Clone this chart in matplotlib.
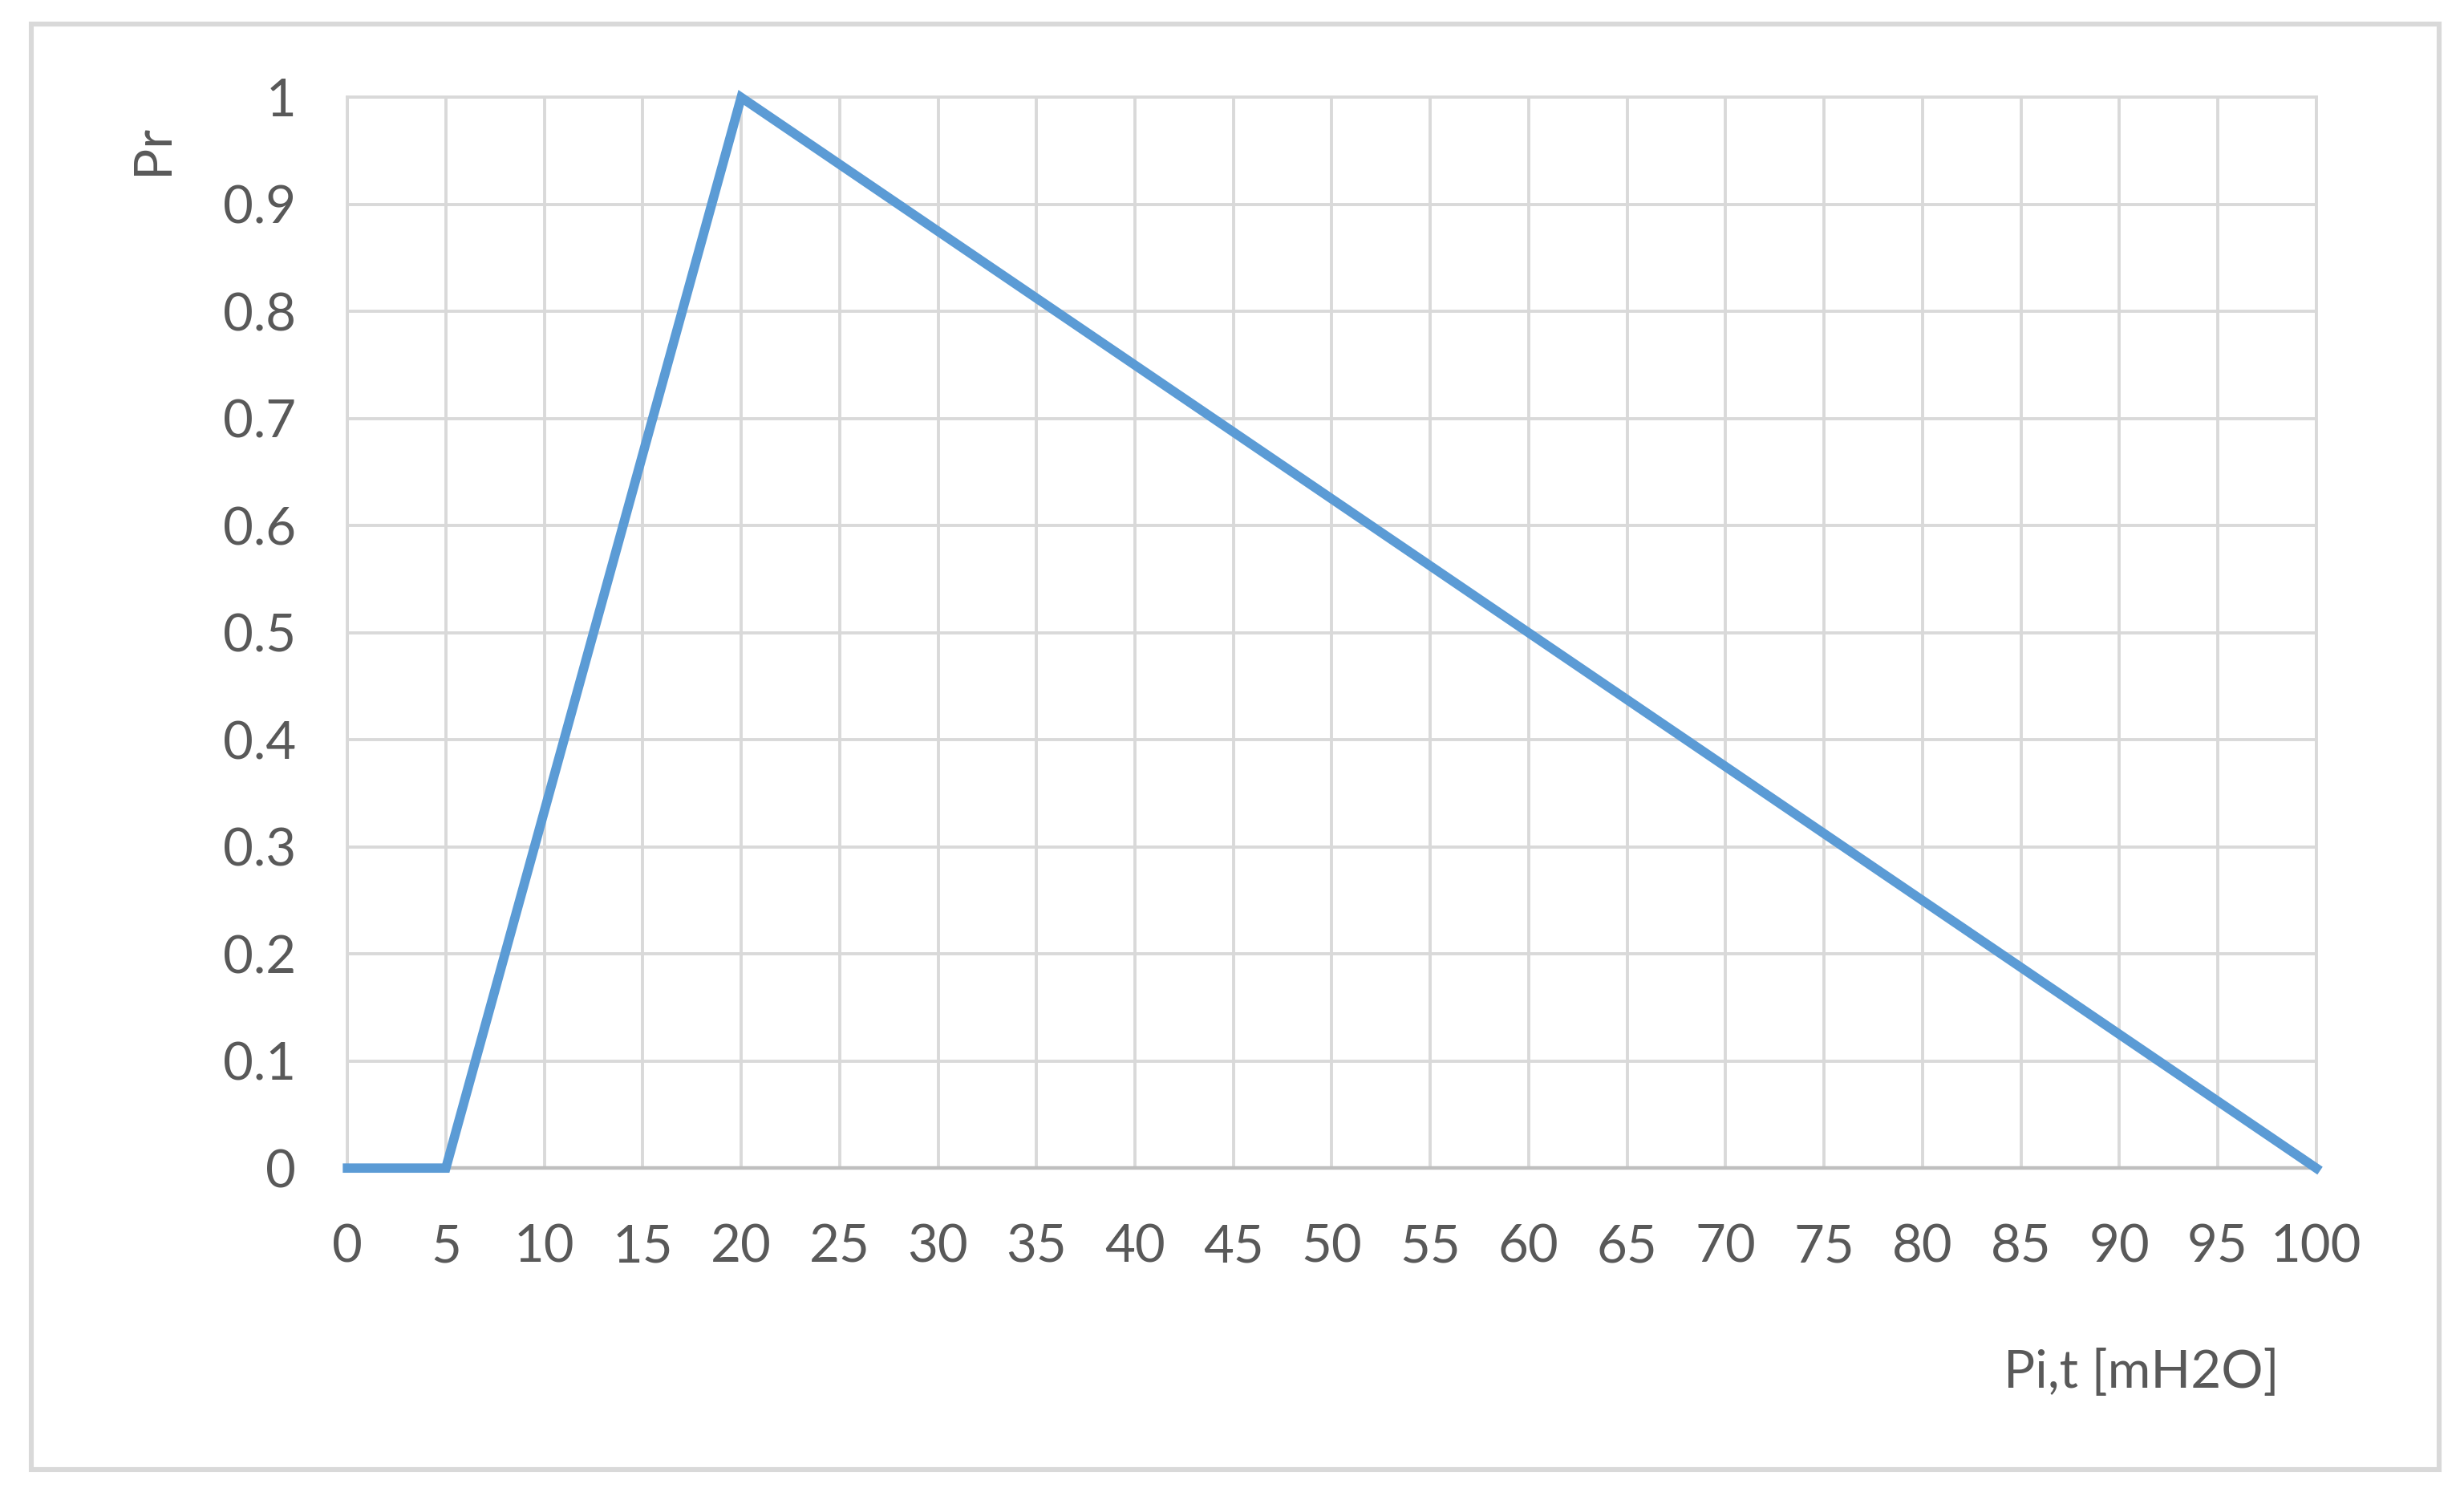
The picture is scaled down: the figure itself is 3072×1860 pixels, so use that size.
import numpy as np
from matplotlib import pyplot as plt
from matplotlib.patches import Rectangle

# data
pressure = [0, 5, 20, 100]
ratio = [0, 0, 1, 0]
x_ticks = list(range(0, 101, 5))
y_ticks = [0, 0.1, 0.2, 0.3, 0.4, 0.5, 0.6, 0.7, 0.8, 0.9, 1]
y_labels = ['0', '0.1', '0.2', '0.3', '0.4', '0.5', '0.6', '0.7', '0.8', '0.9', '1']

plt.rcParams['font.family'] = ['Lato', 'DejaVu Sans']
text_col = '#595959'
grid_col = '#d9d9d9'
fs = 23.5

fig = plt.figure(figsize=(15.36, 9.3), dpi=200)
ax = fig.add_axes([0.141, 0.2171, 0.799, 0.7176])

# outer chart border
fig.patches.append(Rectangle((0.0128, 0.0148), 0.977, 0.969, transform=fig.transFigure,
                             fill=False, edgecolor='#d9d9d9', linewidth=2.2))

ax.plot(pressure, ratio, color='#5b9bd5', linewidth=4.2, clip_on=False,
        solid_joinstyle='miter', zorder=3)

ax.set_xlim(0, 100)
ax.set_ylim(0, 1)
ax.set_xticks(x_ticks)
ax.set_yticks(y_ticks)
ax.set_yticklabels(y_labels)
ax.grid(True, color=grid_col, linewidth=1.4)
ax.tick_params(length=0, labelsize=fs, labelcolor=text_col)
ax.tick_params(axis='x', pad=25)
ax.tick_params(axis='y', pad=23)

for s in ['top', 'right', 'left']:
    ax.spines[s].set_color(grid_col)
    ax.spines[s].set_linewidth(1.4)
ax.spines['bottom'].set_color('#bfbfbf')
ax.spines['bottom'].set_linewidth(1.6)

fig.text(0.062, 0.90, 'Pr', rotation=90, fontsize=fs, color=text_col,
         ha='center', va='center')
fig.text(0.869, 0.08, 'Pi,t [mH2O]', fontsize=fs, color=text_col,
         ha='center', va='center')

fig.savefig('out.png', dpi=200, facecolor='white')
